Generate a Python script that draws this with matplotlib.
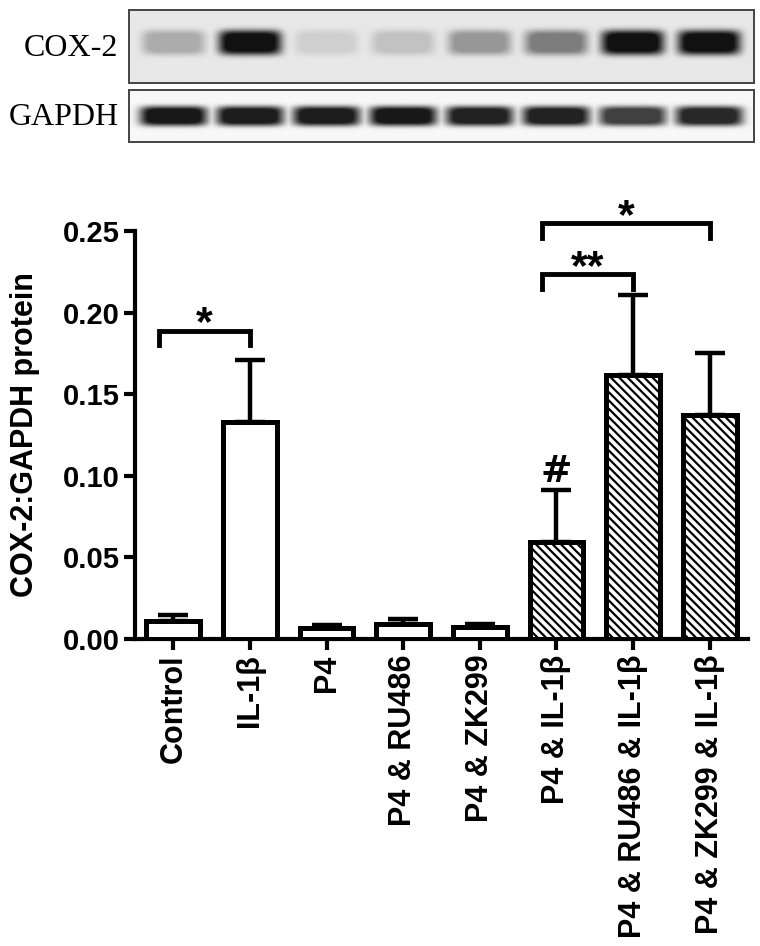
import matplotlib
matplotlib.use("Agg")
import matplotlib.pyplot as plt
import numpy as np

groups = ["Control", "IL-1β", "P4", "P4 & RU486", "P4 & ZK299",
          "P4 & IL-1β", "P4 & RU486 & IL-1β", "P4 & ZK299 & IL-1β"]
means = [0.011, 0.133, 0.007, 0.009, 0.0075, 0.0595, 0.162, 0.137]
sems = [0.0035, 0.038, 0.0015, 0.003, 0.0015, 0.032, 0.049, 0.038]
hatched = [False, False, False, False, False, True, True, True]

# significance brackets: (left group, right group, height, label)
brackets = [(0, 1, 0.189, "*"), (5, 6, 0.2236, "**"), (5, 7, 0.255, "*")]
hash_group = 5

# relative band darkness
cox2_bands = [0.28, 1.0, 0.12, 0.18, 0.38, 0.5, 1.0, 1.0]
gapdh_bands = [0.97, 0.95, 0.95, 0.97, 0.93, 0.93, 0.8, 0.9]

plt.rcParams['font.family'] = ['Liberation Sans', 'DejaVu Sans']
plt.rcParams['hatch.linewidth'] = 1.6

fig = plt.figure(figsize=(7.6, 9.46), dpi=100)

# ---- western blot panels ----
xlo, xhi = -0.578, 7.58


def blot(rect, levels, yc, hw, hh, bg, label):
    bx = fig.add_axes(rect)
    xs = np.linspace(xlo, xhi, 800)
    ys = np.linspace(0, 1, 120)
    X, Y = np.meshgrid(xs, ys)
    dark = np.zeros_like(X)
    for i, lvl in enumerate(levels):
        prof = np.exp(-((X - i) / hw) ** 6 - ((Y - yc) / hh) ** 4)
        dark = np.maximum(dark, np.clip(lvl * 1.25 * prof, 0, lvl))
    img = bg - (bg - 0.07) * dark
    bx.imshow(img, cmap='gray', vmin=0, vmax=1, origin='lower', aspect='auto',
              extent=[xlo, xhi, 0, 1], interpolation='bilinear')
    bx.set_xlim(xlo, xhi)
    bx.set_ylim(0, 1)
    bx.set_xticks([])
    bx.set_yticks([])
    for s in bx.spines.values():
        s.set_color('#444444')
        s.set_linewidth(1.4)
    bx.text(-0.017, 0.47, label, transform=bx.transAxes, ha='right', va='center',
            fontsize=23, family='Liberation Serif')


blot([129 / 760, 1 - 83 / 946, 625 / 760, 73 / 946], cox2_bands, 0.555, 0.41, 0.17, 0.91, "COX-2")
blot([129 / 760, 1 - 142 / 946, 625 / 760, 52 / 946], gapdh_bands, 0.5, 0.44, 0.19, 0.97, "GAPDH")

# ---- bar chart ----
ax = fig.add_axes([135 / 760, 1 - 639 / 946, 613 / 760, 408 / 946])
x = np.arange(len(groups))
lw = 3.6
for i in x:
    ax.bar(i, means[i], width=0.7, color='white', edgecolor='black', linewidth=lw,
           hatch='\\\\\\\\' if hatched[i] else None, zorder=3)
    ax.errorbar(i, means[i], yerr=[[0], [sems[i]]], fmt='none', ecolor='black',
                elinewidth=3.2, capsize=11, capthick=3.2, zorder=2)

for a, b, h, lab in brackets:
    xl = a - 0.19
    ax.plot([xl, xl, b, b], [h - 0.009, h, h, h - 0.009], color='black', lw=3.5,
            solid_joinstyle='miter', clip_on=False)
    ax.text((xl + b) / 2, h - 0.003, lab, ha='center', va='baseline', fontsize=31,
            fontweight='bold', clip_on=False)

ax.text(hash_group, means[hash_group] + sems[hash_group] + 0.0045, "#", ha='center',
        va='baseline', fontsize=27, fontweight='bold', family='DejaVu Sans')

ax.set_xlim(-0.5, 7.5)
ax.set_ylim(0, 0.25)
ax.set_yticks([0, 0.05, 0.10, 0.15, 0.20, 0.25])
ax.set_yticklabels(["0.00", "0.05", "0.10", "0.15", "0.20", "0.25"])
ax.set_xticks(x)
ax.set_xticklabels(groups, rotation=90)
for t in ax.get_yticklabels():
    t.set_fontweight('bold')
    t.set_fontsize(21)
for t in ax.get_xticklabels():
    t.set_fontweight('bold')
    t.set_fontsize(22)
ax.tick_params(axis='both', direction='out', length=8, width=3, pad=3)
ax.set_ylabel("COX-2:GAPDH protein", fontsize=22, fontweight='bold', labelpad=16)
for s in ['top', 'right']:
    ax.spines[s].set_visible(False)
for s in ['left', 'bottom']:
    ax.spines[s].set_linewidth(3)

fig.savefig('out.png', dpi=100)
